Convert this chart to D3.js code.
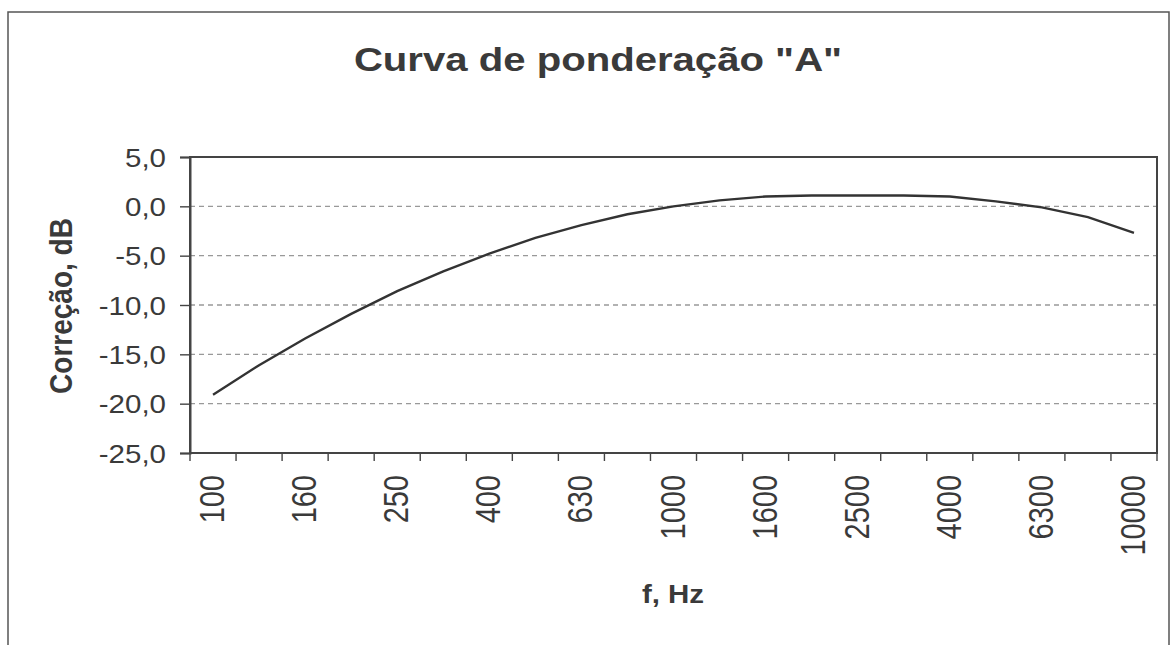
<!DOCTYPE html>
<html>
<head>
<meta charset="utf-8">
<script src="https://d3js.org/d3.v7.min.js"></script>
<style>
  body { margin: 0; background: #fff; }
  text { font-family: Arial, "Liberation Sans", sans-serif; fill: #3a3a3a; }
</style>
</head>
<body>
<div id="container"></div>
<script>
var width = 1173, height = 645;

// frequency bands (Hz) and A-weighting correction (dB)
var freqs = ["100","125","160","200","250","315","400","500","630","800","1000",
             "1250","1600","2000","2500","3150","4000","5000","6300","8000","10000"];
var correction = [-19.1,-16.1,-13.4,-10.9,-8.6,-6.6,-4.8,-3.2,-1.9,-0.8,0.0,
                  0.6,1.0,1.1,1.1,1.1,1.0,0.5,-0.1,-1.1,-2.7];
var yTicks = [5,0,-5,-10,-15,-20,-25];

var margin = {left: 190, right: 16, top: 157, bottom: 192};
var pw = width - margin.left - margin.right;
var ph = height - margin.top - margin.bottom;
var sx = 1.18; // scanned text is a little wider than Arial

var svg = d3.select('#container')
  .append('svg')
  .attr('width', width)
  .attr('height', height);

// outer chart frame
svg.append('rect')
  .attr('x', 8).attr('y', 12)
  .attr('width', 1161).attr('height', 660)
  .attr('fill', 'none').attr('stroke', '#555').attr('stroke-width', 1.5);

svg.append('text')
  .attr('transform', 'translate(598,71) scale(' + sx + ',1)')
  .attr('text-anchor', 'middle')
  .style('font-size', '34px').style('font-weight', 'bold')
  .text('Curva de pondera\u00e7\u00e3o "A"');

var g = svg.append('g').attr('transform', 'translate(' + margin.left + ',' + margin.top + ')');

var x = d3.scaleBand().domain(freqs).range([0, pw]);
var y = d3.scaleLinear().domain([-25, 5]).range([ph, 0]);

// dashed grid
g.selectAll('.grid')
  .data(yTicks.filter(function(d){ return d > -25 && d < 5; }))
  .enter().append('line')
  .attr('x1', 0).attr('x2', pw)
  .attr('y1', function(d){ return y(d); })
  .attr('y2', function(d){ return y(d); })
  .attr('stroke', '#999').attr('stroke-width', 1.4)
  .attr('stroke-dasharray', '5,4');

// plot border
g.append('rect')
  .attr('width', pw).attr('height', ph)
  .attr('fill', 'none').attr('stroke', '#444').attr('stroke-width', 2);

var yAxis = g.append('g')
  .call(d3.axisLeft(y).tickValues(yTicks).tickSize(10).tickPadding(14)
    .tickFormat(function(d){ return d3.format('.1f')(d).replace('.', ',').replace('\u2212','-'); }));
yAxis.select('.domain').attr('stroke', '#444').attr('stroke-width', 2);
yAxis.selectAll('.tick line').attr('stroke', '#444').attr('stroke-width', 1.4);
yAxis.selectAll('text')
  .attr('x', null).attr('dy', null)
  .attr('transform', 'translate(-24,9) scale(' + sx + ',1)')
  .style('font-size', '25px').attr('fill', '#3a3a3a')
  .style('font-family', 'Arial, "Liberation Sans", sans-serif');

// category ticks at band boundaries
g.selectAll('.xt')
  .data(freqs.concat(['end']))
  .enter().append('line')
  .attr('x1', function(d, i){ return i * x.step(); })
  .attr('x2', function(d, i){ return i * x.step(); })
  .attr('y1', ph).attr('y2', ph + 8)
  .attr('stroke', '#444').attr('stroke-width', 1.4);

g.selectAll('.xl')
  .data(freqs.filter(function(d, i){ return i % 2 === 0; }))
  .enter().append('text')
  .attr('transform', function(d){
    return 'translate(' + (x(d) + x.bandwidth()/2 + 11) + ',' + (ph + 22) + ') scale(' + sx + ',1) rotate(-90)';
  })
  .attr('text-anchor', 'end')
  .style('font-size', '29px')
  .text(function(d){ return d; });

var line = d3.line()
  .x(function(d, i){ return x(freqs[i]) + x.bandwidth()/2; })
  .y(function(d){ return y(d); });

g.append('path')
  .datum(correction)
  .attr('d', line)
  .attr('fill', 'none')
  .attr('stroke', '#333')
  .attr('stroke-width', 2.4);

svg.append('text')
  .attr('transform', 'translate(72,306) scale(1.1,1) rotate(-90)')
  .attr('text-anchor', 'middle')
  .style('font-size', '28px').style('font-weight', 'bold')
  .text('Corre\u00e7\u00e3o, dB');

svg.append('text')
  .attr('transform', 'translate(673,603) scale(' + sx + ',1)')
  .attr('text-anchor', 'middle')
  .style('font-size', '25px').style('font-weight', 'bold')
  .text('f, Hz');
</script>
</body>
</html>
